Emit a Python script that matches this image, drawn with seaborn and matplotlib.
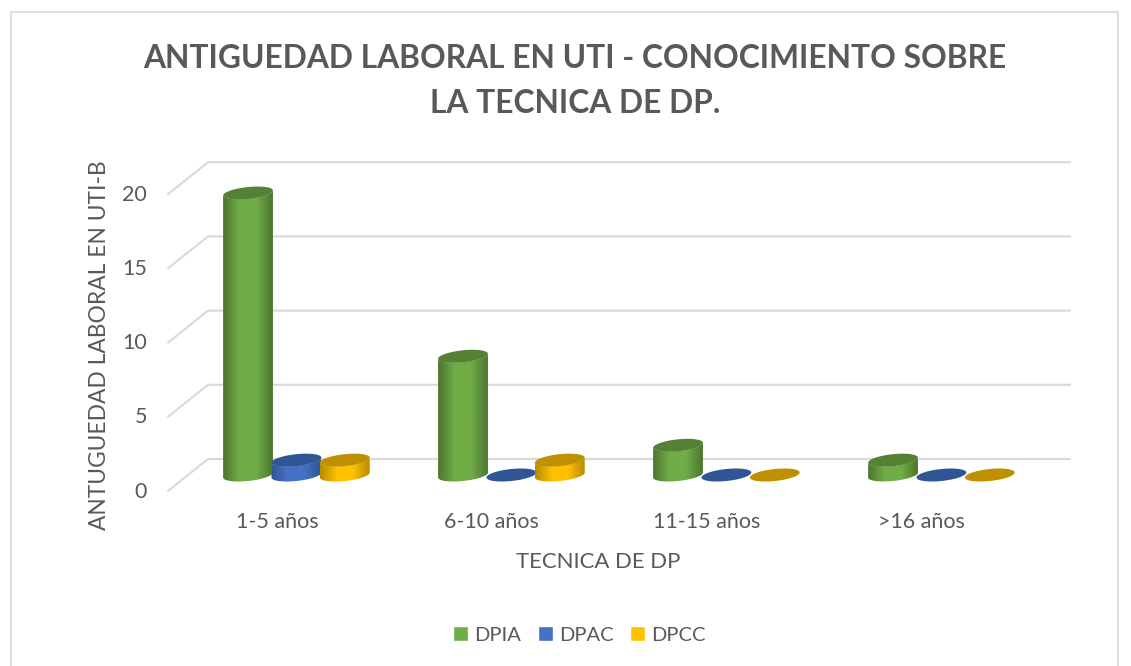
import numpy as np
import pandas as pd
import matplotlib
matplotlib.use("Agg")
import matplotlib.pyplot as plt
from matplotlib.colors import LinearSegmentedColormap
from matplotlib.patches import PathPatch, Rectangle
from matplotlib.path import Path
import seaborn as sns

# ---------- data ----------
categories = ["1-5 años", "6-10 años", "11-15 años", ">16 años"]
series_names = ["DPIA", "DPAC", "DPCC"]
dpia = [19, 8, 2, 1]
dpac = [1, 0, 0, 0]
dpcc = [1, 1, 0, 0]
y_ticks = [0, 5, 10, 15, 20]
title = "ANTIGUEDAD LABORAL EN UTI - CONOCIMIENTO SOBRE\nLA TECNICA DE DP."
x_title = "TECNICA DE DP"
y_title = "ANTUGUEDAD LABORAL EN UTI-B"

colors = {"DPIA": "#70ad47", "DPAC": "#4472c4", "DPCC": "#ffc000"}
dark = {"DPIA": "#558135", "DPAC": "#2f5597", "DPCC": "#bf9000"}
edge = {"DPIA": "#4c7530", "DPAC": "#2f5597", "DPCC": "#b88a00"}

df = pd.DataFrame({
    "cat": categories * 3,
    "serie": [s for s in series_names for _ in categories],
    "val": dpia + dpac + dpcc,
})

sns.set_theme(style="white")
plt.rcParams["font.family"] = ["Lato", "DejaVu Sans"]
TXT = "#595959"
W, H = 1131, 666
fig = plt.figure(figsize=(W / 100, H / 100), dpi=100, facecolor="white")

# axes in pixel box
L, R, T, B = 168, 1070, 150, 500
ax = fig.add_axes([L / W, 1 - B / H, (R - L) / W, (B - T) / H])
ax.patch.set_alpha(0)

GROUP_PX = 215.0
UNIT_PX = 14.84
ZERO_PX = 475.0
GROUP0_PX = 296.4
xlim = ((L - GROUP0_PX) / GROUP_PX, (R - GROUP0_PX) / GROUP_PX)
ylim = ((ZERO_PX - B) / UNIT_PX, (ZERO_PX - T) / UNIT_PX)

sns.barplot(data=df, x="cat", y="val", hue="serie", hue_order=series_names,
            order=categories, palette=colors, width=0.675, gap=0, saturation=1,
            errorbar=None, ax=ax, legend=True)
handles, labels = ax.get_legend_handles_labels()
ax.get_legend().remove()

depth_y = 16.0 / UNIT_PX
depth_x = 40.0 / GROUP_PX

# 3-D floor/back wall grid
for v in y_ticks:
    ax.plot([xlim[0], xlim[0] + depth_x, xlim[1]],
            [v - depth_y, v + depth_y, v + depth_y],
            color="#d9d9d9", lw=1.5, zorder=0.5, clip_on=False,
            solid_joinstyle="miter")

ry = 6.0 / UNIT_PX
k = 2.5 / UNIT_PX
t = np.linspace(0, 2 * np.pi, 121)
z = 2.0
for name, cont in zip(series_names, ax.containers):
    cmap = LinearSegmentedColormap.from_list(
        name, [edge[name], colors[name], colors[name], edge[name]])
    for bar in cont:
        rx = bar.get_width() / 2 * 1.03
        cx = bar.get_x() + bar.get_width() / 2
        v = bar.get_height()
        # top ellipse
        ex = cx + rx * np.cos(t)
        ey = v + ry * np.sin(t) + k * np.cos(t)
        if v > 0:
            # body: upper edge at top ellipse, lower edge at base ellipse
            t_low = np.linspace(np.pi, 2 * np.pi, 60)
            bx = cx + rx * np.cos(t_low)
            by = ry * np.sin(t_low) + k * np.cos(t_low)
            tx = cx + rx * np.cos(t_low[::-1])
            ty = v + k * np.cos(t_low[::-1]) + ry * np.sin(t_low[::-1])
            body = np.column_stack([np.r_[bx, tx], np.r_[by, ty]])
            clip = PathPatch(Path(np.vstack([body, body[0]]), closed=True),
                             transform=ax.transData, fc="none", ec="none")
            ax.add_patch(clip)
            bar.set_zorder(z)
            bar.set_clip_path(clip)
            grad = np.linspace(0, 1, 128).reshape(1, -1)
            im = ax.imshow(grad, extent=(cx - rx, cx + rx, -2 * ry, v + 2 * ry),
                           aspect="auto", cmap=cmap, zorder=z + 0.1,
                           interpolation="bilinear")
            im.set_clip_path(clip)
        else:
            bar.set_visible(False)
        ax.fill(ex, ey, color=dark[name], lw=0, zorder=z + 0.2)
        z += 1

ax.set_xlim(*xlim)
ax.set_ylim(*ylim)
ax.set_xticks(np.arange(len(categories)) - 19.5 / GROUP_PX)
ax.set_xticklabels(categories)
ax.set_yticks(np.array(y_ticks) - depth_y + 1.5 / UNIT_PX)
ax.set_yticklabels([str(v) for v in y_ticks])
ax.tick_params(axis="both", length=0, labelsize=15.5, labelcolor=TXT)
ax.tick_params(axis="x", pad=9)
ax.tick_params(axis="y", pad=15)
sns.despine(ax=ax, left=True, bottom=True, top=True, right=True)
ax.grid(False)

ax.set_xlabel(x_title, fontsize=15.9, color=TXT)
ax.xaxis.set_label_coords(598 / W, 1 - 562 / H, transform=fig.transFigure)
ax.xaxis.label.set_verticalalignment("center")
ax.set_ylabel(y_title, fontsize=16.4, color=TXT)
ax.yaxis.set_label_coords(100 / W, 1 - 345 / H, transform=fig.transFigure)
ax.yaxis.label.set_verticalalignment("center")

fig.suptitle(title, x=575 / W, y=1 - 81 / H, va="center", ha="center",
             fontsize=22.9, fontweight="bold", color=TXT, linespacing=1.7)

ax.legend(handles, labels, ncol=3, frameon=False, loc="center",
          bbox_to_anchor=(579.5 / W, 1 - 635 / H), bbox_transform=fig.transFigure,
          fontsize=14.5, labelcolor=TXT, handlelength=0.75, handleheight=0.75,
          handletextpad=0.32, columnspacing=0.8, borderpad=0)

# chart frame
fig.add_artist(Rectangle((11 / W, -0.02), (1118 - 11) / W, 1 - 12 / H + 0.02,
                         transform=fig.transFigure, fc="none", ec="#d9d9d9", lw=1.2))

fig.savefig("out.png", dpi=100, facecolor="white")
